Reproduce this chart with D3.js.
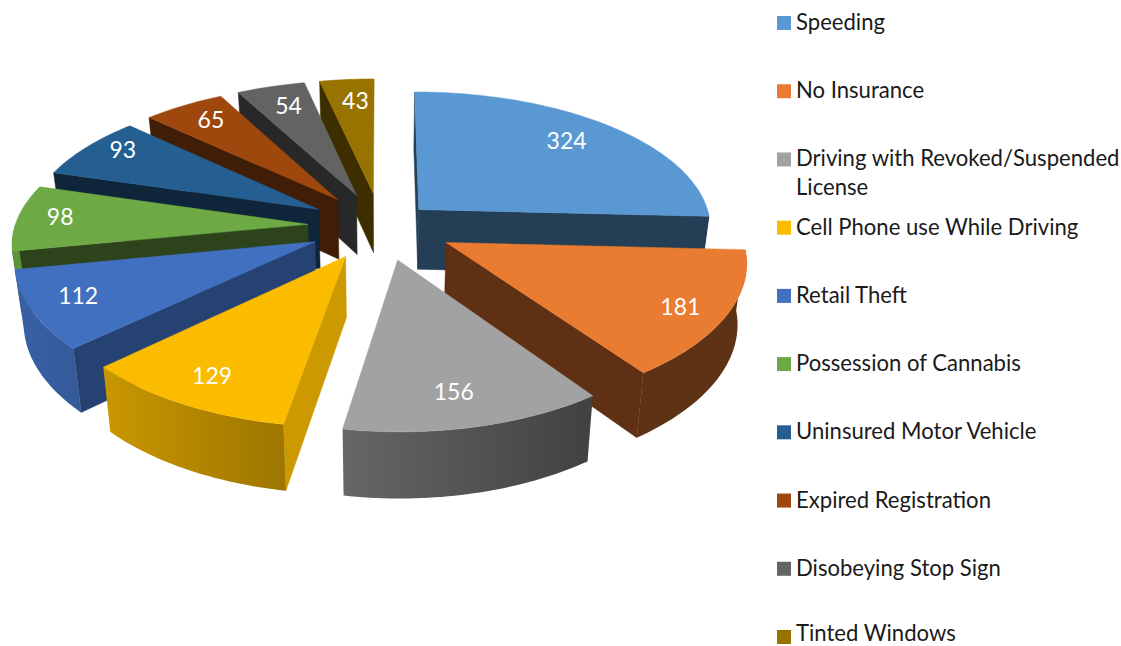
<!DOCTYPE html>
<html>
<head>
<meta charset="utf-8">
<script src="https://cdn.jsdelivr.net/npm/d3@7"></script>
<style>
html,body{margin:0;padding:0;background:#fff;}
svg{display:block;}
text{font-family:Lato,"Open Sans",sans-serif;}
</style>
</head>
<body>
<svg id="chart" width="1121" height="646"></svg>
<script>
const categories = ["Speeding","No Insurance","Driving with Revoked/Suspended License","Cell Phone use While Driving","Retail Theft","Possession of Cannabis","Uninsured Motor Vehicle","Expired Registration","Disobeying Stop Sign","Tinted Windows"];
const values = [324,181,156,129,112,98,93,65,54,43];
const explodeBy = [0.18,0.25,0.25,0.25,0.25,0.25,0.25,0.25,0.25,0.25];
const topColors = ["#5A98D4","#EA7C31","#A2A2A2","#FBBC00","#4170C0","#6DAA45","#255E91","#9E480E","#636363","#997300"];
const wallColors = ["#243E55","#5F3013","#404040","#CC9A00","#264272","#2C431C","#0F2539","#3F1D06","#282828","#3D2E00"];
const legendLines = [["Speeding"],["No Insurance"],["Driving with Revoked/Suspended","License"],["Cell Phone use While Driving"],["Retail Theft"],["Possession of Cannabis"],["Uninsured Motor Vehicle"],["Expired Registration"],["Disobeying Stop Sign"],["Tinted Windows"]];
const labelNudge = [[-16,2],[-2,2],[-9,-7],[3,-4],[2,-4],[-1,-3],[3,-7],[6,0],[6,3],[5,5]];

const svg = d3.select("#chart");
const defs = svg.append("defs");
const cx = 381, cy = 226, Rx = 293, Ry = 134, kx = 0.12, kyNear = 0.153, kyFar = 0.11, depth = 60, shrink = 0.975;

const arcs = d3.pie().sort(null).value(d => d)(values);

function planar(e, mid, rho, a) {
  return [e*Math.sin(mid) + rho*Math.sin(a), -e*Math.cos(mid) - rho*Math.cos(a)];
}
const wy = v => 1/(1 - (v < 0 ? kyFar : kyNear)*v);
function project([u, v]) {
  return [cx + Rx*u/(1 - kx*v), cy + Ry*v*wy(v)];
}
function projectBase([u, v]) {
  const [x, y] = project([u, v]);
  return [cx + (x - cx)*shrink, y + depth*Math.sqrt(wy(v))];
}
const shade = d3.scaleLinear().domain([90,145,190,226,262,270]).range([0.4,0.4,0.63,0.8,0.87,0.87]).clamp(true);
const line = d3.line();
const deg = r => r*180/Math.PI;

const slices = arcs.map((d, i) => {
  const mid = (d.startAngle + d.endAngle)/2;
  return {i, d, mid, e: explodeBy[i], order: -Math.cos(mid)};
}).sort((a, b) => a.order - b.order);

const g = svg.append("g");
slices.forEach(s => {
  const {i, d, mid, e} = s;
  const apex = planar(e, mid, 0, 0);
  const rimPt = a => planar(e, mid, 1, a);
  const sa = deg(d.startAngle), ea = deg(d.endAngle);
  const grp = g.append("g").attr("class", "slice");

  const wall = a => {
    const p = rimPt(a);
    grp.append("path")
      .attr("d", line([project(apex), project(p), projectBase(p), projectBase(apex)]) + "Z")
      .attr("fill", wallColors[i]).attr("stroke", wallColors[i]).attr("stroke-width", 0.5);
  };
  if (sa < 1 || sa >= 180) wall(d.startAngle);
  if (ea > 0 && ea <= 180) wall(d.endAngle);

  const from = Math.max(d.startAngle, Math.PI/2), to = Math.min(d.endAngle, Math.PI*1.5);
  if (to > from) {
    const as = d3.range(0, 41).map(t => from + (to - from)*t/40);
    const tops = as.map(a => project(rimPt(a)));
    const bots = as.map(a => projectBase(rimPt(a)));
    const gid = "rim" + i;
    const base = d3.color(topColors[i]);
    const mix = f => d3.rgb(base.r*f, base.g*f, base.b*f).formatHex();
    const gr = defs.append("linearGradient").attr("id", gid).attr("gradientUnits", "userSpaceOnUse")
      .attr("x1", tops[0][0]).attr("y1", 0).attr("x2", tops[40][0]).attr("y2", 0);
    gr.append("stop").attr("offset", 0).attr("stop-color", mix(shade(deg(from))));
    gr.append("stop").attr("offset", 1).attr("stop-color", mix(shade(deg(to))));
    grp.append("path")
      .attr("d", line(tops.concat(bots.reverse())) + "Z")
      .attr("fill", "url(#" + gid + ")");
  }

  const n = Math.max(8, Math.ceil((d.endAngle - d.startAngle)*40));
  const rim = d3.range(0, n + 1).map(t => project(rimPt(d.startAngle + (d.endAngle - d.startAngle)*t/n)));
  grp.append("path")
    .attr("d", line([project(apex)].concat(rim)) + "Z")
    .attr("fill", topColors[i]).attr("stroke", topColors[i]).attr("stroke-width", 0.5);
});

// data labels
const labelRho = 0.85;
svg.append("g").selectAll("text").data(arcs).join("text")
  .each(function(d, i) {
    const mid = (d.startAngle + d.endAngle)/2;
    const p = project(planar(explodeBy[i], mid, labelRho, mid));
    d3.select(this).attr("x", p[0] + labelNudge[i][0]).attr("y", p[1] + labelNudge[i][1]);
  })
  .attr("text-anchor", "middle").attr("dominant-baseline", "central")
  .attr("fill", "#fff").attr("font-size", 23)
  .text(d => d.value);

// legend
const legendY = d3.scaleLinear().domain([0, categories.length - 1]).range([23, 637]);
const legend = svg.append("g");
categories.forEach((c, i) => {
  const y = legendY(i);
  legend.append("rect").attr("x", 777).attr("y", y - 7).attr("width", 14).attr("height", 14).attr("fill", topColors[i]);
  legendLines[i].forEach((t, j) => {
    legend.append("text").attr("x", 796).attr("y", Math.min(y + 7, 641) + j*29).attr("font-size", 22.1).attr("fill", "#1a1a1a").text(t);
  });
});
</script>
</body>
</html>
